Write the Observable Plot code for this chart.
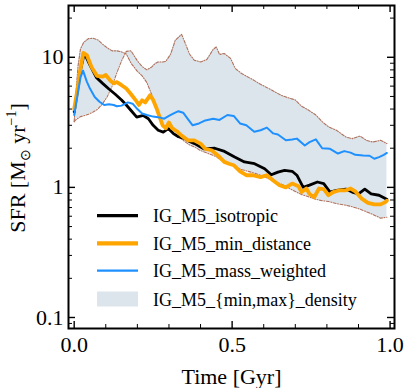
<!DOCTYPE html>
<html><head><meta charset="utf-8">
<script src="https://cdn.jsdelivr.net/npm/d3@7"></script>
<script src="https://cdn.jsdelivr.net/npm/@observablehq/plot@0.6"></script>
<style>body{margin:0;background:#fff} svg{display:block} svg text{font-weight:normal}</style>
</head><body><div id="chart"></div>
<script>
// ---- data (Time in Gyr, SFR in Msun/yr) ----
const isoTime = [0, 0.01, 0.02, 0.03, 0.035, 0.05, 0.07, 0.09, 0.11, 0.13, 0.15, 0.165, 0.18, 0.198, 0.219, 0.235, 0.25, 0.266, 0.282, 0.298, 0.314, 0.33, 0.35, 0.365, 0.381, 0.41, 0.445, 0.476, 0.508, 0.539, 0.571, 0.603, 0.624, 0.645, 0.666, 0.69, 0.705, 0.725, 0.745, 0.77, 0.79, 0.81, 0.83, 0.86, 0.88, 0.9, 0.92, 0.94, 0.965, 0.985, 0.99];
const isoSFR  = [3.8, 5.5, 8.0, 10.2, 10.4, 8.7, 7.0, 6.3, 5.7, 5.2, 4.7, 4.3, 3.9, 3.47, 3.57, 3.37, 3.0, 2.75, 2.66, 2.83, 2.59, 2.45, 2.37, 2.25, 2.17, 1.98, 2.0, 1.89, 1.71, 1.57, 1.52, 1.39, 1.25, 1.31, 1.35, 1.33, 1.24, 1.0, 1.04, 1.1, 1.07, 0.92, 0.95, 0.97, 0.92, 0.89, 0.97, 0.89, 0.87, 0.82, 0.81];

const minDistTime = [0, 0.012, 0.018, 0.029, 0.04, 0.055, 0.072, 0.09, 0.1, 0.115, 0.125, 0.135, 0.15, 0.165, 0.18, 0.195, 0.205, 0.215, 0.225, 0.24, 0.25, 0.26, 0.27, 0.28, 0.29, 0.3, 0.31, 0.325, 0.34, 0.36, 0.38, 0.4, 0.415, 0.435, 0.455, 0.475, 0.49, 0.505, 0.525, 0.545, 0.565, 0.59, 0.61, 0.63, 0.65, 0.67, 0.69, 0.71, 0.72, 0.735, 0.745, 0.76, 0.775, 0.79, 0.805, 0.82, 0.84, 0.86, 0.875, 0.89, 0.91, 0.93, 0.95, 0.97, 0.985, 0.99];
const minDistSFR  = [4.0, 6.0, 7.7, 10.8, 10.4, 8.4, 7.2, 7.1, 7.3, 6.6, 6.3, 6.45, 6.1, 5.75, 5.2, 4.67, 4.3, 4.67, 4.5, 5.1, 4.7, 4.1, 3.5, 3.0, 2.85, 3.15, 2.85, 2.7, 2.5, 2.3, 2.3, 2.17, 1.98, 1.93, 1.76, 1.57, 1.52, 1.48, 1.33, 1.24, 1.24, 1.2, 1.24, 1.13, 1.04, 1.0, 1.07, 1.02, 0.92, 0.98, 0.89, 0.84, 0.98, 0.97, 0.87, 0.92, 0.95, 0.95, 0.98, 0.93, 0.82, 0.76, 0.74, 0.74, 0.77, 0.79];

const massTime = [0, 0.01, 0.02, 0.028, 0.04, 0.05, 0.065, 0.08, 0.095, 0.11, 0.125, 0.135, 0.15, 0.17, 0.185, 0.2, 0.215, 0.23, 0.25, 0.27, 0.285, 0.3, 0.315, 0.33, 0.345, 0.36, 0.375, 0.395, 0.415, 0.44, 0.46, 0.485, 0.505, 0.525, 0.545, 0.57, 0.59, 0.61, 0.63, 0.645, 0.67, 0.69, 0.705, 0.73, 0.745, 0.765, 0.785, 0.81, 0.835, 0.855, 0.875, 0.89, 0.915, 0.935, 0.95, 0.965, 0.98, 0.99];
const massSFR  = [3.6, 5.0, 7.0, 7.9, 6.5, 5.75, 4.95, 4.55, 4.3, 4.35, 4.3, 4.2, 4.25, 4.5, 4.4, 4.0, 3.7, 3.6, 3.5, 3.45, 3.37, 3.54, 3.7, 3.85, 3.75, 3.35, 3.0, 3.1, 3.27, 3.37, 3.3, 3.6, 3.54, 3.1, 3.0, 2.68, 2.75, 2.88, 2.6, 2.55, 2.3, 2.33, 2.37, 2.1, 2.23, 2.34, 2.0, 1.98, 1.82, 1.9, 1.85, 1.78, 1.76, 1.75, 1.66, 1.71, 1.78, 1.84];

const densTime = [0, 0.005, 0.012, 0.02, 0.03, 0.045, 0.06, 0.075, 0.09, 0.105, 0.12, 0.135, 0.15, 0.165, 0.18, 0.2, 0.215, 0.23, 0.245, 0.255, 0.265, 0.28, 0.29, 0.305, 0.32, 0.34, 0.35, 0.365, 0.38, 0.4, 0.42, 0.44, 0.45, 0.46, 0.475, 0.495, 0.51, 0.53, 0.56, 0.59, 0.625, 0.655, 0.675, 0.7, 0.72, 0.74, 0.765, 0.785, 0.805, 0.83, 0.86, 0.88, 0.905, 0.925, 0.945, 0.97, 0.99];
const densA = [3.2, 5.0, 8.5, 11.6, 13.0, 13.9, 14.0, 13.6, 12.6, 11.8, 11.2, 11.2, 11.0, 10.6, 9.0, 7.8, 7.2, 6.4, 5.2, 4.4, 3.7, 3.1, 2.8, 2.7, 2.55, 2.35, 2.25, 2.12, 2.05, 1.92, 1.84, 1.76, 1.72, 1.65, 1.58, 1.5, 1.44, 1.37, 1.31, 1.24, 1.14, 1.06, 1.0, 0.93, 0.88, 0.85, 0.81, 0.79, 0.78, 0.75, 0.73, 0.71, 0.68, 0.65, 0.62, 0.58, 0.59];
const densB = [3.2, 3.3, 3.4, 3.5, 3.55, 3.65, 3.8, 4.0, 4.4, 5.0, 6.0, 7.6, 9.4, 11.1, 11.2, 9.4, 8.5, 8.0, 8.4, 8.9, 9.2, 9.2, 9.3, 10.5, 13.5, 15.0, 13.1, 10.6, 9.5, 9.2, 9.6, 11.5, 12.0, 10.5, 10.7, 9.8, 8.2, 7.5, 6.85, 6.2, 5.6, 5.1, 4.9, 4.7, 4.2, 3.95, 3.6, 3.2, 2.92, 2.75, 2.44, 2.37, 2.48, 2.3, 2.23, 2.3, 2.17];

const seriesLabels = ["IG_M5_isotropic", "IG_M5_min_distance", "IG_M5_mass_weighted", "IG_M5_{min,max}_density"];
const xMajor = [0, 0.5, 1.0];
const xMinor = [0.1, 0.2, 0.3, 0.4, 0.6, 0.7, 0.8, 0.9];
const yMajor = [0.1, 1, 10];
const yMinor = [0.09, 0.2, 0.3, 0.4, 0.5, 0.6, 0.7, 0.8, 0.9, 2, 3, 4, 5, 6, 7, 8, 9, 20];

// ---- tables ----
const rows = (t, v) => t.map((d, i) => ({t: d, v: v[i]}));
const isoRows = rows(isoTime, isoSFR);
const minRows = rows(minDistTime, minDistSFR);
const massRows = rows(massTime, massSFR);
const envRows = densTime.map((d, i) => ({t: d, a: densA[i], b: densB[i]}));

const W = 407, H = 388, mL = 68, mR = 13, mT = 5, mB = 60;
const fw = W - mL - mR, fh = H - mT - mB;
const colors = {iso: "#000000", min: "#FFA500", mass: "#1E90FF", fill: "#dde5ec", edge: "#b0725c"};
const dash = "3,1.5,1,1.5";
const FONT = "Liberation Serif, serif";

const chart = Plot.plot({
  width: W, height: H,
  marginLeft: mL, marginRight: mR, marginTop: mT, marginBottom: mB,
  style: {fontFamily: FONT, fontSize: "22px", background: "white", color: "black"},
  x: {domain: [-0.018, 1.014], axis: null},
  y: {type: "log", domain: [0.0823, 25], axis: null},
  marks: [
    Plot.areaY(envRows, {x: "t", y1: "a", y2: "b", fill: colors.fill}),
    Plot.line(envRows, {x: "t", y: "a", stroke: colors.edge, strokeWidth: 1.1, strokeDasharray: dash}),
    Plot.line(envRows, {x: "t", y: "b", stroke: colors.edge, strokeWidth: 1.1, strokeDasharray: dash}),
    Plot.line(isoRows, {x: "t", y: "v", stroke: colors.iso, strokeWidth: 2.8}),
    Plot.line(minRows, {x: "t", y: "v", stroke: colors.min, strokeWidth: 3.8}),
    Plot.line(massRows, {x: "t", y: "v", stroke: colors.mass, strokeWidth: 2}),
    // inward ticks on all four sides
    Plot.tickX(xMajor, {x: d => d, insetTop: fh - 7, stroke: "black", strokeWidth: 1.4}),
    Plot.tickX(xMajor, {x: d => d, insetBottom: fh - 7, stroke: "black", strokeWidth: 1.4}),
    Plot.tickX(xMinor, {x: d => d, insetTop: fh - 4, stroke: "black", strokeWidth: 1}),
    Plot.tickX(xMinor, {x: d => d, insetBottom: fh - 4, stroke: "black", strokeWidth: 1}),
    Plot.tickY(yMajor, {y: d => d, insetRight: fw - 7, stroke: "black", strokeWidth: 1.4}),
    Plot.tickY(yMajor, {y: d => d, insetLeft: fw - 7, stroke: "black", strokeWidth: 1.4}),
    Plot.tickY(yMinor, {y: d => d, insetRight: fw - 4, stroke: "black", strokeWidth: 1}),
    Plot.tickY(yMinor, {y: d => d, insetLeft: fw - 4, stroke: "black", strokeWidth: 1}),
    Plot.frame({stroke: "black", strokeWidth: 2}),
    Plot.axisX({ticks: xMajor, tickSize: 0, tickPadding: 8, tickFormat: d3.format(".1f"), fontSize: 22, fontWeight: "normal", label: null}),
    Plot.axisY({ticks: yMajor, tickSize: 0, tickPadding: 5, tickFormat: d3.format("~g"), fontSize: 22, fontWeight: "normal", label: null}),
    Plot.text(["Time [Gyr]"], {frameAnchor: "bottom", lineAnchor: "bottom", dy: 55, text: d => d, fontSize: 22, fontWeight: "normal"})
  ]
});
document.getElementById("chart").appendChild(chart);

// ---- y label with sub/superscripts ----
const svg = d3.select(chart);
const yl = svg.append("text")
  .attr("transform", "translate(25,168) rotate(-90)")
  .attr("text-anchor", "middle")
  .attr("font-family", FONT)
  .attr("font-size", 22)
  .attr("fill", "black");
yl.append("tspan").text("SFR [M");
yl.append("tspan").attr("font-size", 14).attr("dy", 5).text("⊙");
yl.append("tspan").attr("dy", -5).text(" yr");
yl.append("tspan").attr("font-size", 14).attr("dy", -9).text("−1");
yl.append("tspan").attr("dy", 9).text("]");

// ---- legend ----
const lg = svg.append("g").attr("font-family", FONT).attr("font-size", 18).attr("text-anchor", "start");
const legendY = [215.7, 243.3, 270.7, 299];
const legendStyle = [
  {stroke: colors.iso, w: 3.2},
  {stroke: colors.min, w: 4.2},
  {stroke: colors.mass, w: 2.2},
  null
];
seriesLabels.forEach((lab, i) => {
  const y = legendY[i];
  if (legendStyle[i]) {
    lg.append("line").attr("x1", 97).attr("x2", 138).attr("y1", y).attr("y2", y)
      .attr("stroke", legendStyle[i].stroke).attr("stroke-width", legendStyle[i].w);
  } else {
    lg.append("rect").attr("x", 97).attr("y", y - 7.5).attr("width", 41).attr("height", 15)
      .attr("fill", colors.fill);
  }
  lg.append("text").attr("x", 153).attr("y", y + 6.5).attr("text-anchor", "start").attr("fill", "black").text(lab);
});
</script>
</body></html>
